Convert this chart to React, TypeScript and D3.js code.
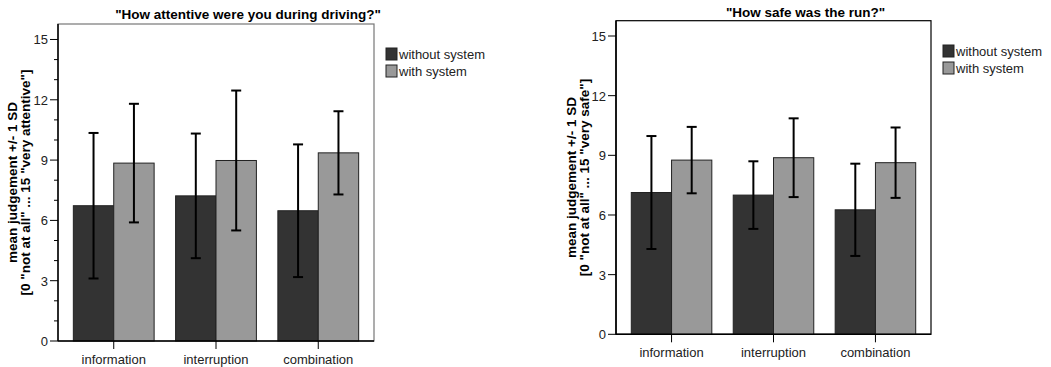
import React, { useEffect, useRef } from "react";
import * as d3 from "d3";

// categories and series
const categories = ["information", "interruption", "combination"];
const seriesNames = ["without system", "with system"];
const seriesColors = ["#333333", "#999999"];

// "How attentive were you during driving?"
const attentiveWithout = [6.73, 7.22, 6.48];
const attentiveWithoutSD = [3.62, 3.1, 3.3];
const attentiveWith = [8.85, 8.98, 9.36];
const attentiveWithSD = [2.95, 3.48, 2.07];

// "How safe was the run?"
const safeWithout = [7.13, 7.0, 6.26];
const safeWithoutSD = [2.84, 1.7, 2.32];
const safeWith = [8.76, 8.88, 8.63];
const safeWithSD = [1.67, 1.98, 1.77];

const yTicks = [0, 3, 6, 9, 12, 15];
const yMinorTicks = d3.range(0, 16);

type PanelProps = {
  title: string;
  yLabel: string[];
  means: number[][];
  sds: number[][];
  left: number;
  right: number;
  top: number;
  bottom: number;
  titleY: number;
  labelX: number[];
  catY: number;
  legendY: number;
  minor: boolean;
  frameColor: string;
};

const Panel = (props: PanelProps) => {
  const gRef = useRef<SVGGElement>(null);

  useEffect(() => {
    const p = props;
    const g = d3.select(gRef.current);
    g.selectAll("*").remove();

    const font = "Arial, 'Liberation Sans', sans-serif";

    const x0 = d3
      .scaleBand()
      .domain(categories)
      .range([p.left, p.right])
      .paddingInner(0.21)
      .paddingOuter(0.15);
    const x1 = d3
      .scaleBand()
      .domain(seriesNames)
      .range([0, x0.bandwidth()]);
    const y = d3.scaleLinear().domain([0, 15.77]).range([p.bottom, p.top]);

    // frame
    g.append("rect")
      .attr("x", p.left)
      .attr("y", p.top)
      .attr("width", p.right - p.left)
      .attr("height", p.bottom - p.top)
      .attr("fill", "none")
      .attr("stroke", p.frameColor)
      .attr("stroke-width", 1.2);

    // bars
    const rows = categories.flatMap((c, i) =>
      seriesNames.map((s, j) => ({ c, s, j, m: p.means[j][i], sd: p.sds[j][i] }))
    );
    g.selectAll(".bar")
      .data(rows)
      .enter()
      .append("rect")
      .attr("x", (d) => x0(d.c)! + x1(d.s)!)
      .attr("y", (d) => y(d.m))
      .attr("width", x1.bandwidth())
      .attr("height", (d) => p.bottom - y(d.m))
      .attr("fill", (d) => seriesColors[d.j])
      .attr("stroke", "#222")
      .attr("stroke-width", 1);

    // axes lines
    g.append("line")
      .attr("x1", p.left)
      .attr("x2", p.left)
      .attr("y1", p.top)
      .attr("y2", p.bottom)
      .attr("stroke", "#000")
      .attr("stroke-width", 1.5);
    g.append("line")
      .attr("x1", p.left)
      .attr("x2", p.right)
      .attr("y1", p.bottom)
      .attr("y2", p.bottom)
      .attr("stroke", "#000")
      .attr("stroke-width", 1.5);

    // error bars
    const eb = g.selectAll(".err").data(rows).enter().append("g");
    const cx = (d: any) => x0(d.c)! + x1(d.s)! + x1.bandwidth() / 2;
    eb.append("line")
      .attr("x1", cx)
      .attr("x2", cx)
      .attr("y1", (d) => y(d.m + d.sd))
      .attr("y2", (d) => y(d.m - d.sd))
      .attr("stroke", "#000")
      .attr("stroke-width", 2);
    [1, -1].forEach((sgn) => {
      eb.append("line")
        .attr("x1", (d) => cx(d) - 5)
        .attr("x2", (d) => cx(d) + 5)
        .attr("y1", (d) => y(d.m + sgn * d.sd))
        .attr("y2", (d) => y(d.m + sgn * d.sd))
        .attr("stroke", "#000")
        .attr("stroke-width", 2);
    });

    // y ticks
    if (p.minor) {
      g.selectAll(".minor")
        .data(yMinorTicks.filter((v) => v % 3 !== 0))
        .enter()
        .append("line")
        .attr("x1", p.left - 4)
        .attr("x2", p.left)
        .attr("y1", (d) => y(d))
        .attr("y2", (d) => y(d))
        .attr("stroke", "#000");
    }
    g.selectAll(".major")
      .data(yTicks)
      .enter()
      .append("line")
      .attr("x1", p.left - 8)
      .attr("x2", p.left)
      .attr("y1", (d) => y(d))
      .attr("y2", (d) => y(d))
      .attr("stroke", "#000");
    g.selectAll(".ytl")
      .data(yTicks)
      .enter()
      .append("text")
      .attr("x", p.left - 10)
      .attr("y", (d) => y(d) + 5)
      .attr("text-anchor", "end")
      .style("font-family", font)
      .style("font-size", "13px")
      .attr("fill", "#222")
      .text((d) => d);

    // x ticks and labels
    categories.forEach((c) => {
      const xc = x0(c)! + x0.bandwidth() / 2;
      g.append("line")
        .attr("x1", xc)
        .attr("x2", xc)
        .attr("y1", p.bottom)
        .attr("y2", p.bottom + 8)
        .attr("stroke", "#000");
      g.append("text")
        .attr("x", xc)
        .attr("y", p.catY)
        .attr("text-anchor", "middle")
        .style("font-family", font)
        .style("font-size", "13px")
        .attr("fill", "#222")
        .text(c);
    });

    // title
    g.append("text")
      .attr("x", (p.left + p.right) / 2 + 32)
      .attr("y", p.titleY)
      .attr("text-anchor", "middle")
      .style("font-family", font)
      .style("font-size", "13.5px")
      .style("font-weight", "bold")
      .text(p.title);

    // y label
    const cy = (p.top + p.bottom) / 2;
    p.yLabel.forEach((line, i) => {
      g.append("text")
        .attr("transform", `translate(${p.labelX[i]},${cy}) rotate(-90)`)
        .attr("text-anchor", "middle")
        .style("font-family", font)
        .style("font-size", "13.5px")
        .style("font-weight", "bold")
        .text(line);
    });

    // legend
    seriesNames.forEach((s, i) => {
      const ly = p.legendY + i * 17;
      g.append("rect")
        .attr("x", p.right + 12)
        .attr("y", ly)
        .attr("width", 11)
        .attr("height", 12)
        .attr("fill", seriesColors[i])
        .attr("stroke", "#222");
      g.append("text")
        .attr("x", p.right + 25)
        .attr("y", ly + 11)
        .style("font-family", font)
        .style("font-size", "13px")
        .attr("fill", "#222")
        .text(s);
    });
  }, [props]);

  return <g ref={gRef}></g>;
};

const App = () => {
  return (
    <svg
      width={1051}
      height={367}
      style={{ position: "absolute", left: 0, top: 0, background: "#fff" }}
    >
      <Panel
        title={'"How attentive were you during driving?"'}
        yLabel={['mean judgement +/- 1 SD', '[0 "not at all" ... 15 "very attentive"]']}
        means={[attentiveWithout, attentiveWith]}
        sds={[attentiveWithoutSD, attentiveWithSD]}
        left={58}
        right={374}
        top={24}
        bottom={341}
        titleY={19}
        labelX={[17, 30]}
        catY={364}
        legendY={48}
        minor={true}
        frameColor="#777"
      />
      <Panel
        title={'"How safe was the run?"'}
        yLabel={['mean judgement +/- 1 SD', '[0 "not at all" ... 15 "very safe"]']}
        means={[safeWithout, safeWith]}
        sds={[safeWithoutSD, safeWithSD]}
        left={616}
        right={931}
        top={20.7}
        bottom={334.3}
        titleY={17}
        labelX={[576, 589]}
        catY={357}
        legendY={45}
        minor={false}
        frameColor="#000"
      />
    </svg>
  );
};

export default App;
